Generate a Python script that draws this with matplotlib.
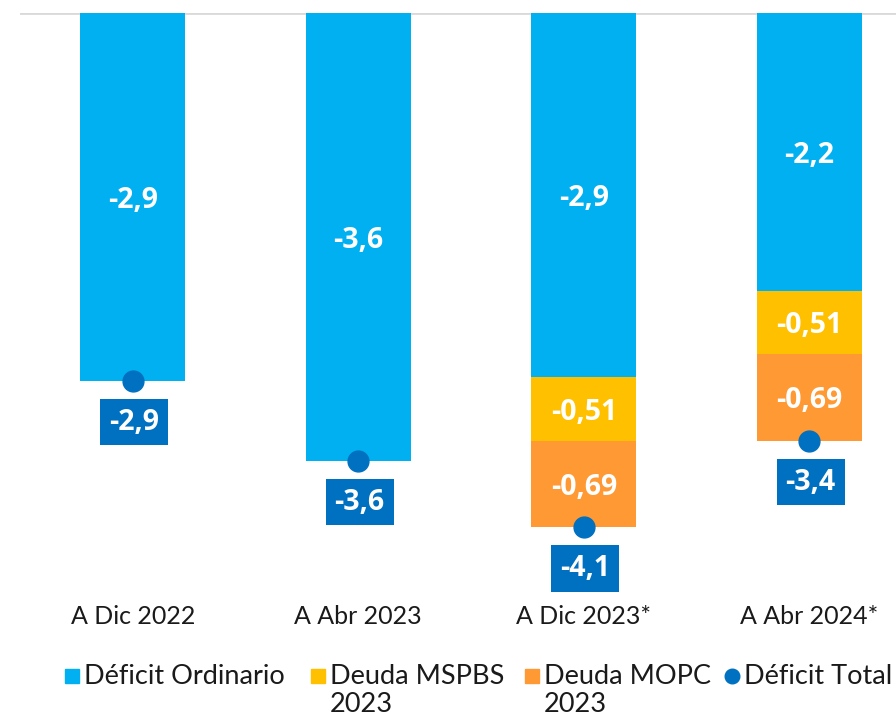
import numpy as np
import matplotlib.pyplot as plt
from matplotlib.lines import Line2D
from matplotlib.patches import Rectangle

plt.rcParams['font.family'] = ['Lato', 'DejaVu Sans']

# data
categories = ['A Dic 2022', 'A Abr 2023', 'A Dic 2023*', 'A Abr 2024*']
deficit_ordinario = [-2.94, -3.58, -2.91, -2.22]
deuda_mspbs = [0.0, 0.0, -0.51, -0.51]
deuda_mopc = [0.0, 0.0, -0.69, -0.69]
deficit_total = list(np.array(deficit_ordinario) + np.array(deuda_mspbs) + np.array(deuda_mopc))

c_blue = '#00B0F0'
c_yellow = '#FFC000'
c_orange = '#FF9933'
c_dark = '#0070C0'

W, H = 896, 716
fig = plt.figure(figsize=(W / 100, H / 100), dpi=100)
ax = fig.add_axes([20 / W, 1 - 598 / H, 902 / W, 585 / H])

x = np.arange(len(categories))
bw = 0.466

ax.bar(x, deficit_ordinario, bw, color=c_blue, zorder=2)
ax.bar(x, deuda_mspbs, bw, bottom=deficit_ordinario, color=c_yellow, zorder=2)
bottom2 = np.array(deficit_ordinario) + np.array(deuda_mspbs)
ax.bar(x, deuda_mopc, bw, bottom=bottom2, color=c_orange, zorder=2)

def fmt(v, d):
    return f'{v:.{d}f}'.replace('.', ',')

bold_font = ['Open Sans', 'DejaVu Sans']
lab_kw = dict(ha='center', va='center_baseline', color='white', fontsize=20.5, fontweight='bold',
              family=bold_font, zorder=4)
for i in range(len(categories)):
    ax.text(x[i], deficit_ordinario[i] / 2, fmt(deficit_ordinario[i], 1), **lab_kw)
    if deuda_mspbs[i] != 0:
        ax.text(x[i], deficit_ordinario[i] + deuda_mspbs[i] / 2, fmt(deuda_mspbs[i], 2), **lab_kw)
    if deuda_mopc[i] != 0:
        ax.text(x[i], bottom2[i] + deuda_mopc[i] / 2, fmt(deuda_mopc[i], 2), **lab_kw)

# total dots + boxed labels
ax.plot(x, deficit_total, 'o', color=c_dark, markersize=15, linestyle='none', zorder=5)
for i in range(len(categories)):
    ax.annotate(fmt(deficit_total[i], 1), (x[i], deficit_total[i]), xytext=(1, -30),
                textcoords='offset points', ha='center', va='center', color='white',
                fontsize=20.5, fontweight='bold', family=bold_font, zorder=6,
                bbox=dict(boxstyle='square,pad=0.31', fc=c_dark, ec='none'))

ax.axhline(0, color='#D9D9D9', lw=2, zorder=1)
ax.set_xlim(-0.5, 3.5)
ax.set_ylim(-(598 - 13) / 125, 0)
for s in ax.spines.values():
    s.set_visible(False)
ax.set_yticks([])
ax.set_xticks(x)
ax.set_xticklabels(categories, fontsize=18, color='#1a1a1a')
ax.tick_params(axis='x', length=0, pad=5)

# legend (manual, first line aligned with handle)
legend_y = 1 - 676 / H
line2_y = 1 - 704 / H
items = [
    ('sq', c_blue, 72, 'Déficit Ordinario', None),
    ('sq', c_yellow, 318, 'Deuda MSPBS', '2023'),
    ('sq', c_orange, 532, 'Deuda MOPC', '2023'),
    ('dot', c_dark, 732, 'Déficit Total', None),
]
for kind, col, px, txt, txt2 in items:
    if kind == 'sq':
        fig.patches.append(Rectangle(((px - 7) / W, legend_y - 7 / H), 14 / W, 14 / H,
                                     color=col, transform=fig.transFigure))
    else:
        fig.add_artist(Line2D([px / W], [legend_y], marker='o', markersize=10.5,
                              color=col, linestyle='none', transform=fig.transFigure))
    fig.text((px + 12) / W, legend_y, txt, ha='left', va='center', fontsize=19.5, color='#1a1a1a')
    if txt2:
        fig.text((px + 12) / W, line2_y, txt2, ha='left', va='center', fontsize=19.5, color='#1a1a1a')

fig.savefig('out.png', dpi=100)
